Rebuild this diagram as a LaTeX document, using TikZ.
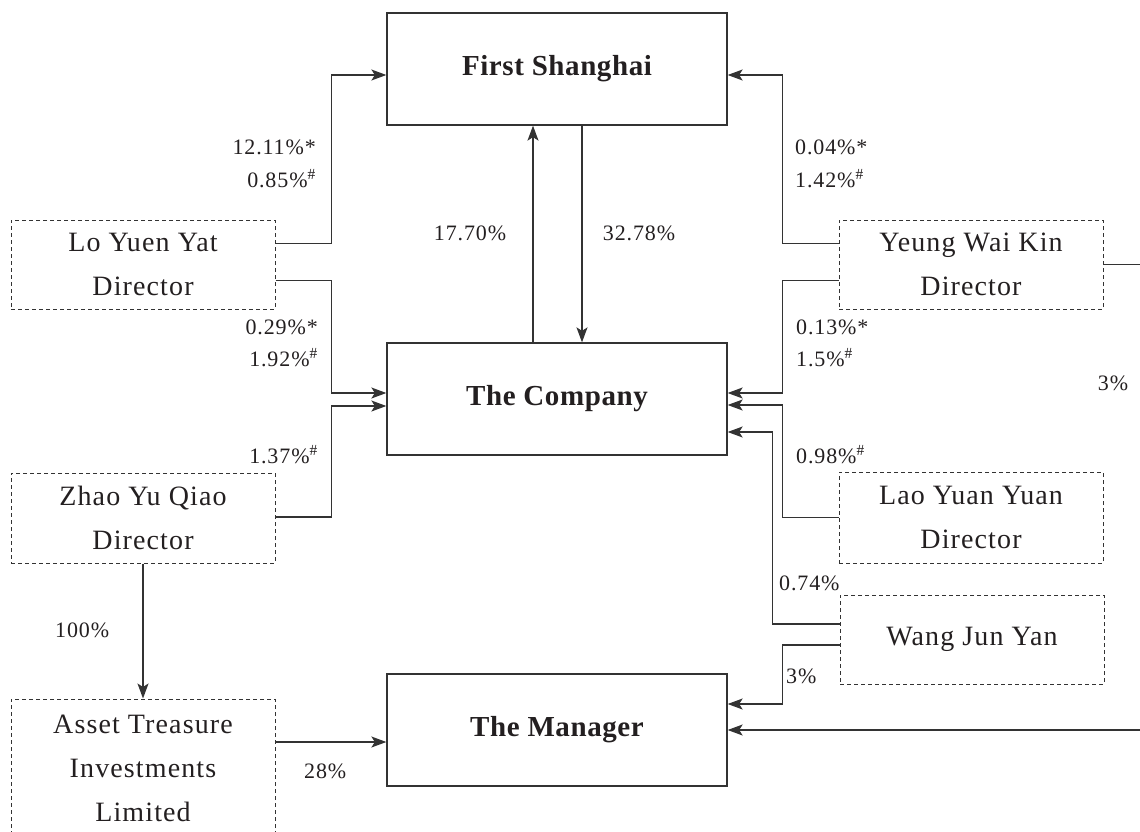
\documentclass[tikz,border=0pt]{standalone}
\usepackage{fontspec}
\setmainfont{Liberation Serif}
\newfontfamily\chartfont[LetterSpace=4,WordSpace=1.2]{Liberation Serif}
\newfontfamily\pctfont[LetterSpace=4]{Liberation Serif}
\newfontfamily\headfont[LetterSpace=2]{Liberation Serif}
\usepackage{xcolor}
\usetikzlibrary{arrows.meta,positioning,calc}
\definecolor{inkline}{HTML}{333333}
\definecolor{inktext}{HTML}{231F20}
\newcommand{\hsh}{\textsuperscript{\#}}

\begin{document}
\begin{tikzpicture}[
    x=1pt, y=-1pt,
    entity/.style={rectangle, draw=inkline, line width=1.3pt, minimum width=340pt, minimum height=112pt, text=inktext, font=\headfont\bfseries\fontsize{29}{34}\selectfont},
    holder/.style={rectangle, draw=inkline, dash pattern=on 4pt off 3pt, line width=1pt, minimum width=264pt, minimum height=89pt, align=center, text=inktext, font=\chartfont\fontsize{28}{44}\selectfont},
    pct/.style={inner sep=0pt, text=inktext, font=\pctfont\fontsize{22}{33}\selectfont},
    link/.style={line width=1.3pt, draw=inkline},
    arrow/.style={link, -{Stealth[length=15pt,width=11pt,inset=3.5pt]}}
]
\useasboundingbox (0,0) rectangle (1140,832);
\clip (0,0) rectangle (1140,832);

% Main entities
\node[entity] (first_shanghai) at (557, 69) {First Shanghai};
\node[entity] (the_company) at (557, 399) {The Company};
\node[entity] (the_manager) at (557, 730) {The Manager};

% Directors and holders, left side
\node[holder] (lo_yuen_yat) at (143, 264.5) {Lo Yuen Yat\\Director};
\node[holder, minimum height=90pt] (zhao_yu_qiao) at (143, 518) {Zhao Yu Qiao\\Director};
\node[holder, minimum height=138pt] (asset_treasure) at (143, 768) {Asset Treasure\\Investments\\Limited};

% Directors and holders, right side
\node[holder] (yeung_wai_kin) at (971, 264.5) {Yeung Wai Kin\\Director};
\node[holder, minimum height=91pt] (lao_yuan_yuan) at (971, 517.5) {Lao Yuan Yuan\\Director};
\node[holder] (wang_jun_yan) at (972, 639.5) {Wang Jun Yan};

% Holdings, left side
\draw[arrow] ([yshift=21pt]lo_yuen_yat.east) -- ++(56,0) |- ([yshift=-6pt]first_shanghai.west);
\draw[arrow] ([yshift=-16pt]lo_yuen_yat.east) -- ++(56,0) |- ([yshift=6pt]the_company.west);
\draw[arrow] ([yshift=1pt]zhao_yu_qiao.east) -- ++(56,0) |- ([yshift=-7pt]the_company.west);
\draw[arrow] (zhao_yu_qiao.south) -- (asset_treasure.north);
\draw[arrow] ([yshift=26pt]asset_treasure.east) -- ([yshift=26pt]asset_treasure.east -| the_manager.west);

% Cross holdings
\draw[arrow] ([xshift=-24pt]the_company.north) -- ([xshift=-24pt]first_shanghai.south);
\draw[arrow] ([xshift=25pt]first_shanghai.south) -- ([xshift=25pt]the_company.north);

% Holdings, right side
\draw[arrow] ([yshift=21pt]yeung_wai_kin.west) -- ++(-56,0) |- ([yshift=-6pt]first_shanghai.east);
\draw[arrow] ([yshift=-16pt]yeung_wai_kin.west) -- ++(-56,0) |- ([yshift=6pt]the_company.east);
\draw[arrow] (lao_yuan_yuan.west) -- ++(-56,0) |- ([yshift=-6pt]the_company.east);
\draw[arrow] ([yshift=15.5pt]wang_jun_yan.west) -- ++(-67,0) |- ([yshift=-33pt]the_company.east);
\draw[arrow] ([yshift=-5.5pt]wang_jun_yan.west) -- ++(-57,0) |- ([yshift=26pt]the_manager.east);
\draw[arrow] (yeung_wai_kin.east) -- ++(60,0) |- (the_manager.east);

% Percentages
\node[pct, anchor=base east] (p_lo_fs_a) at (316, 154) {12.11\%*};
\node[pct, anchor=base east] (p_lo_fs_b) at (316, 187) {0.85\%\hsh};
\node[pct, anchor=base east] (p_lo_co_a) at (318, 334) {0.29\%*};
\node[pct, anchor=base east] (p_lo_co_b) at (318, 366) {1.92\%\hsh};
\node[pct, anchor=base east] (p_zh_co) at (318, 463) {1.37\%\hsh};
\node[pct, anchor=base west] (p_zh_at) at (55, 637) {100\%};
\node[pct, anchor=base west] (p_at_mg) at (304, 778) {28\%};
\node[pct, anchor=base] (p_co_fs) at (470, 240) {17.70\%};
\node[pct, anchor=base] (p_fs_co) at (639, 240) {32.78\%};
\node[pct, anchor=base west] (p_yw_fs_a) at (795, 154) {0.04\%*};
\node[pct, anchor=base west] (p_yw_fs_b) at (795, 187) {1.42\%\hsh};
\node[pct, anchor=base west] (p_yw_co_a) at (796, 334) {0.13\%*};
\node[pct, anchor=base west] (p_yw_co_b) at (796, 366) {1.5\%\hsh};
\node[pct, anchor=base west] (p_ly_co) at (796, 463) {0.98\%\hsh};
\node[pct, anchor=base] (p_yw_mg) at (1113, 390) {3\%};
\node[pct, anchor=base west] (p_wj_co) at (779, 590) {0.74\%};
\node[pct, anchor=base west] (p_wj_mg) at (786, 683) {3\%};

\end{tikzpicture}
\end{document}
